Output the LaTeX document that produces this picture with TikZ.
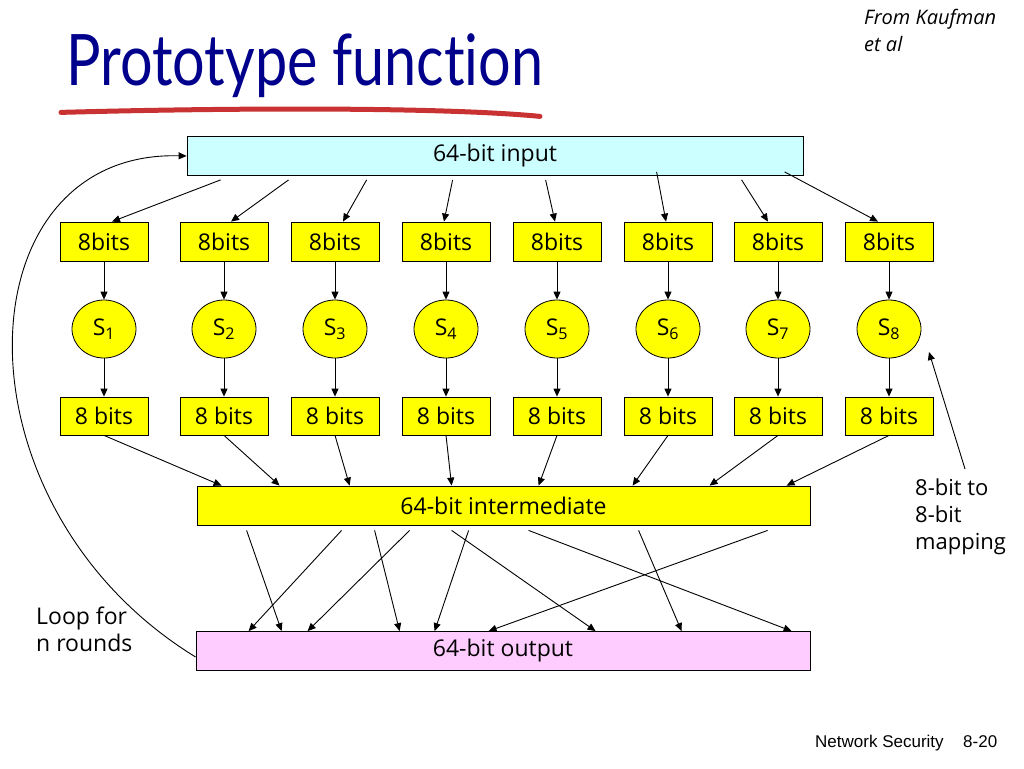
\documentclass[tikz,border=0pt]{standalone}
\usepackage{fontspec}
\setmainfont{Open Sans}
\newfontfamily\titlefont[Ligatures={NoCommon,NoRare,NoContextual}]{Lato}
\newfontfamily\footfont{Liberation Sans}
\usetikzlibrary{arrows.meta,calc,shapes.geometric}
\definecolor{boxyellow}{RGB}{255,255,0}
\definecolor{incyan}{RGB}{204,255,255}
\definecolor{outpink}{RGB}{255,204,255}
\definecolor{titleblue}{RGB}{0,0,140}
\definecolor{brushred}{RGB}{200,50,50}
\begin{document}
\begin{tikzpicture}[x=1pt,y=-1pt,
  arr/.style={-{Triangle[length=8pt,width=7pt]}, line width=0.9pt},
  txt/.style={font=\fontsize{23}{27}\selectfont},
  wide/.style={draw=black, line width=0.8pt, minimum height=39pt, inner sep=0pt, txt},
  ybox/.style={draw=black, fill=boxyellow, line width=0.8pt, minimum width=88pt, minimum height=39pt, inner sep=0pt, txt},
  sbox/.style={ellipse, draw=black, fill=boxyellow, line width=0.8pt, minimum width=64pt, minimum height=58pt, inner sep=0pt, txt},
  lbl/.style={align=left, inner sep=0pt, txt}
]
\useasboundingbox (0,0) rectangle (1024,768);
\fill[white] (0,0) rectangle (1024,768);

% title
\node[anchor=base west, inner sep=0pt, text=titleblue] (title) at (66,85)
  {\resizebox*{477pt}{64pt}{\titlefont Prototype function}};
\draw[brushred, line width=5pt, line cap=round]
  ($(title.south west)+(-5,15)$) .. controls ($(title.south west)+(180,10)$) and ($(title.south west)+(380,10)$) .. ($(title.south west)+(474,19)$);
\node[anchor=north west, align=left, inner sep=0pt, font=\fontsize{20}{27}\selectfont\itshape] (from) at (864,9) {From Kaufman\\et al};

% main boxes
\node[wide, fill=incyan, minimum width=616pt] (in) at (495,156) {64-bit input};
\node[wide, fill=boxyellow, minimum width=613pt] (inter) at (503.5,505.5) {64-bit intermediate};
\node[wide, fill=outpink, minimum width=614pt] (out) at (503,651) {64-bit output};

% columns
\foreach \i/\x in {1/104,2/224,3/335,4/446,5/557,6/668,7/778,8/889}{
  \node[ybox] (b\i) at (\x,241.5) {8bits};
  \node[sbox] (s\i) at (\x,329) {S\textsubscript{\i}};
  \node[ybox, minimum height=38pt] (c\i) at (\x,416) {8 bits};
  \draw[arr] (b\i.south) -- (s\i.north);
  \draw[arr] (s\i.south) -- (c\i.north);
}

% input to 8bits
\foreach \i/\sx/\sy/\ex in {1/34/4/8, 2/102/4/7, 3/180/4/8, 4/266/4/-2, 5/359/4/-2, 6/470/-4/-2, 7/555/4/-10, 8/598/-4/-11}{
  \draw[arr] ($(in.south west)+(\sx,\sy)$) -- ($(b\i.north)+(\ex,0)$);
}

% 8 bits to intermediate
\foreach \i/\ex in {1/25, 2/83, 3/153, 4/255, 5/342, 6/436, 7/513, 8/590}{
  \draw[arr] (c\i.south) -- ($(inter.north west)+(\ex,0)$);
}

% intermediate to output
\foreach \sx/\ex in {50/86, 145/53, 178/204, 213/112, 272/239, 255/400, 332/596, 442/486, 571/293}{
  \draw[arr] ($(inter.south west)+(\sx,5)$) -- ($(out.north west)+(\ex,0)$);
}

% loop
\draw[arr] ($(out.west)+(0,6)$) .. controls (-52,505) and (-40,150) .. (in.west);
\node[lbl, anchor=north west] (loop) at (36,607) {Loop for\\n rounds};

% mapping
\node[lbl, anchor=north west, font=\fontsize{22}{27}\selectfont] (map) at (915,479) {8-bit to\\8-bit\\mapping};
\coordinate (maptail) at (965,469);
\draw[arr] (maptail) -- ($(s8.center)+(40,23)$);

% footer
\node[anchor=base west, inner sep=0pt, font=\fontsize{17}{20}\selectfont\footfont] (foot) at (815,747) {Network Security};
\node[anchor=base west, inner sep=0pt, font=\fontsize{17}{20}\selectfont\footfont] (page) at (963,747) {8-20};
\end{tikzpicture}
\end{document}
